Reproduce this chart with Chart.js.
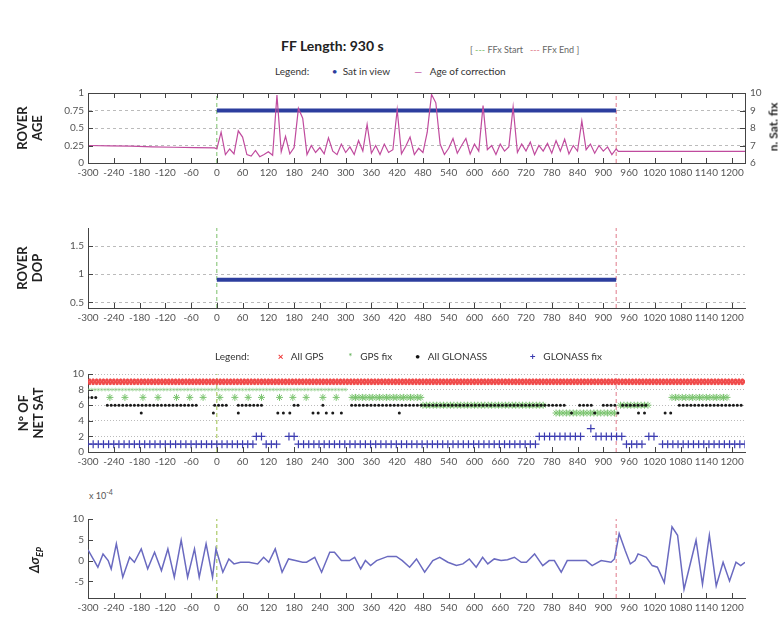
<!DOCTYPE html>
<html>
<head>
<meta charset="utf-8">
<script src="https://cdn.jsdelivr.net/npm/chart.js@4.4.1/dist/chart.umd.min.js"></script>
<style>
  body { margin: 0; background: #fff; }
  #page { position: relative; width: 779px; height: 619px; overflow: hidden; font-family: Lato, "Open Sans", sans-serif; color: #222; }
  .panel { position: absolute; left: 0; width: 779px; }
  .txt { position: absolute; white-space: nowrap; font-size: 10px; color: #333; line-height: 1; }
  .vtitle { position: absolute; transform: translate(-50%, -50%) rotate(-90deg); text-align: center; font-weight: bold; font-size: 13px; line-height: 15px; white-space: nowrap; color: #222; }
</style>
</head>
<body>
<div id="page">
  <div class="panel" style="top:80px;height:103px"><canvas id="c1"></canvas></div>
  <div class="panel" style="top:215px;height:113px"><canvas id="c2"></canvas></div>
  <div class="panel" style="top:360px;height:112px"><canvas id="c3"></canvas></div>
  <div class="panel" style="top:505px;height:113px"><canvas id="c4"></canvas></div>

  <div class="txt" style="left:281px;top:39px;font-size:14px;font-weight:bold;color:#222">FF Length: 930 s</div>
  <div class="txt" style="left:470px;top:45px;font-size:9px;color:#666">[ <span style="color:#7bbf6a">---</span> FFx Start &nbsp; <span style="color:#e07a8a">---</span> FFx End ]</div>
  <div class="txt" style="left:275px;top:66px">Legend: <span style="margin-left:20px;color:#2c3e9e">&#8226;</span> &nbsp;Sat in view <span style="margin-left:22px;color:#c04b9e">&mdash;</span> &nbsp; Age of correction</div>

  <div class="txt" style="left:215px;top:351px">Legend: <span style="margin-left:26px;color:#e33;font-weight:bold">&times;</span> &nbsp;&nbsp;All GPS <span style="margin-left:22px;color:#5cae52">*</span> &nbsp;&nbsp;GPS fix <span style="margin-left:20px;color:#111">&#8226;</span> &nbsp;&nbsp;All GLONASS <span style="margin-left:40px;color:#3b3bb0;font-weight:bold">+</span> &nbsp;&nbsp;GLONASS fix</div>

  <div class="txt" style="left:89px;top:489px;font-size:9px;color:#555">x 10<sup style="font-size:7px">-4</sup></div>

  <div class="vtitle" style="left:30px;top:128px">ROVER<br>AGE</div>
  <div class="vtitle" style="left:30px;top:268px">ROVER<br>DOP</div>
  <div class="vtitle" style="left:31px;top:413px">N&deg; OF<br>NET SAT</div>
  <div class="vtitle" style="left:37px;top:560px;font-style:italic">&Delta;&sigma;<sub style="font-size:9px">EP</sub></div>
  <div class="vtitle" style="left:773px;top:127px;font-size:12px">n. Sat. fix</div>
</div>

<script>
// time axis (seconds from FF start)
const xTicks = [-300, -240, -180, -120, -60, 0, 60, 120, 180, 240, 300, 360, 420, 480, 540, 600, 660, 720, 780, 840, 900, 960, 1020, 1080, 1140, 1200];
const X_MIN = -300, X_MAX = 1230;
const ffStart = 0;
const ffEnd = 930;

// ROVER AGE: age of correction, before / during / after the FF
const agePreTimes = [-300, -250, -200, -150, -100, -50, -5];
const agePreValues = [0.25, 0.245, 0.24, 0.23, 0.225, 0.22, 0.215];
const AGE_STEP = 10; // samples every 10 s from 0 to 930
const ageValues = [
  0.2, 0.44, 0.12, 0.2, 0.13, 0.46, 0.37, 0.12, 0.1, 0.18,
  0.09, 0.12, 0.16, 0.11, 0.97, 0.16, 0.38, 0.13, 0.22, 0.78,
  0.64, 0.12, 0.25, 0.15, 0.22, 0.13, 0.36, 0.17, 0.12, 0.27,
  0.15, 0.23, 0.12, 0.32, 0.17, 0.55, 0.14, 0.25, 0.12, 0.27,
  0.15, 0.19, 0.76, 0.13, 0.24, 0.37, 0.12, 0.21, 0.15, 0.44,
  0.98, 0.86, 0.27, 0.12, 0.21, 0.35, 0.14, 0.25, 0.35, 0.13,
  0.27, 0.17, 0.82, 0.19, 0.25, 0.12, 0.27, 0.17, 0.23, 0.8,
  0.15, 0.27, 0.17, 0.3, 0.12, 0.25, 0.17, 0.28, 0.14, 0.32,
  0.17, 0.34, 0.13, 0.25, 0.17, 0.6, 0.19, 0.27, 0.14, 0.25,
  0.17, 0.23, 0.12, 0.2
];
const agePostTimes = [935, 1230];
const agePostValues = [0.165, 0.165];

// n. Sat. fix (right axis) and ROVER DOP, constant during the FF: [from, to, value]
const satInViewRuns = [[0, 930, 9]];
const dopRuns = [[0, 930, 0.9]];

// N° OF NET SAT, runs of [from, to, count]
const allGpsRuns = [[-300, 1230, 9]];
const gpsFixRuns = [
  [-300, 300, 8],
  [-249, -249, 7], [-214, -214, 7], [-172, -172, 7], [-137, -137, 7], [-94, -94, 7], [-63, -63, 7],
  [-32, -32, 7], [7, 7, 7], [42, 42, 7], [73, 73, 7], [104, 104, 7], [146, 146, 7], [177, 177, 7],
  [208, 208, 7], [247, 247, 7], [278, 278, 7],
  [315, 480, 7], [480, 760, 6], [790, 930, 5], [940, 1010, 6], [1060, 1190, 7]
];
const allGlonassRuns = [
  [-300, -282, 7],
  [-255, -45, 6], [-5, 30, 6], [50, 110, 6], [180, 195, 6], [247, 247, 6], [314, 810, 6],
  [845, 880, 6], [900, 930, 6], [945, 1000, 6], [1077, 1225, 6],
  [-176, -176, 5], [-8, -8, 5], [50, 50, 5], [142, 142, 5], [155, 155, 5], [170, 170, 5],
  [224, 224, 5], [236, 236, 5], [255, 255, 5], [270, 270, 5], [290, 290, 5], [425, 425, 5],
  [826, 826, 5], [880, 880, 5], [934, 934, 5], [982, 982, 5], [996, 996, 5], [1044, 1044, 5], [1057, 1057, 5]
];
const glonassFixRuns = [
  [-300, 85, 1], [92, 109, 2], [115, 150, 1], [168, 183, 2], [190, 743, 1], [751, 852, 2],
  [871, 871, 3], [883, 945, 2], [954, 991, 1], [1006, 1026, 2], [1038, 1230, 1]
];

// Δσ_EP (x 10^-4)
const dsTimes = [-300, -288, -277, -265, -253, -246, -234, -219, -203, -192, -176, -161, -145, -129, -114, -99, -83, -68, -52, -41, -25, -10, -2,
  14, 28, 40, 55, 75, 95, 109, 121, 136, 152, 167, 183, 200, 209, 228, 244, 263, 274, 290, 309, 321, 335, 346, 358, 372, 398, 418, 432,
  449, 465, 484, 503, 519, 538, 558, 573, 588, 604, 619, 631, 646, 662, 677, 693, 709, 721, 740, 759, 774, 786, 802, 816, 840, 860, 874,
  895, 918, 926, 937, 951, 963, 974, 981, 1000, 1014, 1026, 1042, 1060, 1073, 1088, 1116, 1131, 1147, 1163, 1179, 1194, 1209, 1220, 1230];
const dsValues = [2.6, 0.4, -1.6, 1.6, 0, -2, 4, -4, 0.8, -0.4, 2.8, -2, 2, -2.4, 2.8, -4, 4.9, -4, 2.8, -4, 4, -4, 2.8,
  -2.8, 0.4, -0.8, -0.4, -0.4, -0.8, 0.8, -0.4, 2.8, -2.8, 0.4, 0, -0.4, -0.4, 0.8, -2.8, 2, 2, 0, 0, 0.8, -2, 0, -1.2, 0, 1, 1, 0,
  -1.6, 0.4, -2.8, 0, 0.8, -0.4, -1.2, -0.8, 0.4, -1.6, 0.8, -0.8, 0.4, 0, 0.2, 0.8, -0.4, -0.4, 1.6, -1.2, 0, 0, -2.8, 0, 0, 0, -1.2,
  0, -0.4, 0.4, 6.5, 2.4, -0.8, 0, 1.6, 0.8, -1.2, -1.6, -5.3, 8.1, 6.1, -6.9, 4.9, -5.7, 6.1, -6.1, -0.4, -4.9, -0.4, -1.2, -0.4];

// helpers
function expandRuns(runs, step) {
  const pts = [];
  runs.forEach(([a, b, v]) => {
    for (let t = a; t <= b; t += step) pts.push({ x: t, y: v });
  });
  return pts;
}
function zip(xs, ys) { return xs.map((x, i) => ({ x: x, y: ys[i] })); }
function vline(t, y0, y1, color, axis) {
  return { data: [{ x: t, y: y0 }, { x: t, y: y1 }], borderColor: color, borderWidth: 1, borderDash: [4, 3], pointRadius: 0, yAxisID: axis || 'y' };
}
const plain = v => String(v);

// inward tick marks (matlab style) + optional full frame
const axisMarks = {
  id: 'axisMarks',
  afterDraw(chart, args, o) {
    const { ctx, chartArea: a, scales } = chart;
    ctx.save();
    ctx.strokeStyle = '#444';
    ctx.lineWidth = 1;
    ctx.beginPath();
    scales.x.ticks.forEach(t => {
      const px = Math.round(scales.x.getPixelForValue(t.value)) + 0.5;
      ctx.moveTo(px, a.bottom); ctx.lineTo(px, a.bottom - 5);
      if (o.box) { ctx.moveTo(px, a.top); ctx.lineTo(px, a.top + 5); }
    });
    scales.y.ticks.forEach(t => {
      const py = Math.round(scales.y.getPixelForValue(t.value)) + 0.5;
      ctx.moveTo(a.left, py); ctx.lineTo(a.left + 5, py);
    });
    if (scales.y2) {
      scales.y2.ticks.forEach(t => {
        const py = Math.round(scales.y2.getPixelForValue(t.value)) + 0.5;
        ctx.moveTo(a.right, py); ctx.lineTo(a.right - 5, py);
      });
    }
    if (o.box) ctx.rect(Math.round(a.left) + 0.5, Math.round(a.top) + 0.5, Math.round(a.width), Math.round(a.height));
    ctx.stroke();
    ctx.restore();
  }
};

function xAxis() {
  return {
    type: 'linear', min: X_MIN, max: X_MAX,
    afterBuildTicks: s => { s.ticks = xTicks.map(v => ({ value: v })); },
    afterFit: s => { s.height = 20; },
    grid: { display: false, drawTicks: false },
    border: { display: true, color: '#444' },
    ticks: { autoSkip: false, maxRotation: 0, padding: 4, color: '#555', callback: plain }
  };
}
function yAxis(min, max, ticks, gridDash, showGrid) {
  return {
    min: min, max: max,
    afterBuildTicks: s => { s.ticks = ticks.map(v => ({ value: v })); },
    afterFit: s => { s.width = 88; },
    grid: { display: showGrid, drawTicks: false, color: '#bbb' },
    border: { display: true, color: '#444', dash: gridDash },
    ticks: { padding: 4, color: '#555', callback: plain }
  };
}
function baseOptions(scales, padRight, padTop, box) {
  return {
    responsive: true, maintainAspectRatio: false, animation: false,
    layout: { padding: { left: 0, right: padRight, top: padTop, bottom: 0 } },
    plugins: { legend: { display: false }, tooltip: { enabled: false }, axisMarks: { box: box } },
    scales: scales,
    elements: { line: { tension: 0 } }
  };
}

function build() {
  Chart.defaults.font.family = 'Lato';
  Chart.defaults.font.size = 10;

  // 1. ROVER AGE
  const ageFF = ageValues.map((v, i) => ({ x: i * AGE_STEP, y: v }));
  const ageData = zip(agePreTimes, agePreValues).concat(ageFF, zip(agePostTimes, agePostValues));
  new Chart(document.getElementById('c1'), {
    type: 'line',
    data: {
      datasets: [
        { label: 'Age of correction', data: ageData, borderColor: '#c04b9e', borderWidth: 1.2, pointRadius: 0 },
        { label: 'Sat in view', data: expandRuns(satInViewRuns, 10), borderColor: '#2c3e9e', borderWidth: 4, pointRadius: 0, yAxisID: 'y2' },
        vline(ffStart, 0, 1, '#7bbf6a'),
        vline(ffEnd, 0, 1, '#e07a8a')
      ]
    },
    options: baseOptions({
      x: xAxis(),
      y: yAxis(0, 1, [0, 0.25, 0.5, 0.75, 1], [3, 3], true),
      y2: {
        position: 'right', min: 6, max: 10,
        afterBuildTicks: s => { s.ticks = [6, 7, 8, 9, 10].map(v => ({ value: v })); },
        afterFit: s => { s.width = 34; },
        grid: { display: false, drawTicks: false },
        border: { display: true, color: '#444' },
        ticks: { padding: 5, color: '#555', callback: plain }
      }
    }, 0, 13, true),
    plugins: [axisMarks]
  });

  // 2. ROVER DOP
  new Chart(document.getElementById('c2'), {
    type: 'line',
    data: {
      datasets: [
        { label: 'DOP', data: expandRuns(dopRuns, 10), borderColor: '#2c3e9e', borderWidth: 4, pointRadius: 0 },
        vline(ffStart, 0.4, 1.82, '#7bbf6a'),
        vline(ffEnd, 0.4, 1.82, '#e07a8a')
      ]
    },
    options: baseOptions({
      x: xAxis(),
      y: yAxis(0.4, 1.82, [0.5, 1, 1.5], [3, 3], true)
    }, 34, 13, false),
    plugins: [axisMarks]
  });

  // 3. N° OF NET SAT
  new Chart(document.getElementById('c3'), {
    type: 'scatter',
    data: {
      datasets: [
        { label: 'GLONASS fix', data: expandRuns(glonassFixRuns, 12), pointStyle: 'cross', pointRadius: 4, borderColor: '#3b3bb0', borderWidth: 1.2, showLine: false },
        { label: 'All GLONASS', data: expandRuns(allGlonassRuns, 9), pointStyle: 'circle', pointRadius: 1.5, backgroundColor: '#1a1a1a', borderColor: '#1a1a1a', borderWidth: 0 },
        { label: 'GPS fix', data: expandRuns(gpsFixRuns, 8), pointStyle: 'star', showLine: false, borderWidth: 1,
          pointRadius: c => (c.raw && c.raw.y === 8 ? 2 : 3.5),
          borderColor: c => (c.raw && c.raw.y === 8 ? 'rgba(134,201,124,0.45)' : '#7cc470') },
        { label: 'All GPS', data: expandRuns(allGpsRuns, 8), pointStyle: 'crossRot', pointRadius: 4, borderColor: '#f04a4a', borderWidth: 2, showLine: false },
        Object.assign(vline(ffStart, 0, 10, '#9bbf4a'), { type: 'line' }),
        Object.assign(vline(ffEnd, 0, 10, '#e07a8a'), { type: 'line' })
      ]
    },
    options: baseOptions({
      x: xAxis(),
      y: yAxis(0, 10, [0, 2, 4, 6, 8, 10], [1, 2], true)
    }, 34, 14, false),
    plugins: [axisMarks]
  });

  // 4. delta sigma EP
  new Chart(document.getElementById('c4'), {
    type: 'line',
    data: {
      datasets: [
        { label: 'dsigma', data: zip(dsTimes, dsValues), borderColor: '#6a6ac0', borderWidth: 1.5, pointRadius: 0 },
        vline(ffStart, -9, 10, '#9bbf4a'),
        vline(ffEnd, -9, 10, '#e07a8a')
      ]
    },
    options: baseOptions({
      x: xAxis(),
      y: yAxis(-9, 10, [-5, 0, 5, 10], [], false)
    }, 34, 14, false),
    plugins: [axisMarks]
  });
}

if (document.fonts && document.fonts.load) {
  Promise.all([document.fonts.load('10px Lato'), document.fonts.load('bold 13px Lato')]).then(build, build);
} else {
  build();
}
</script>
</body>
</html>
